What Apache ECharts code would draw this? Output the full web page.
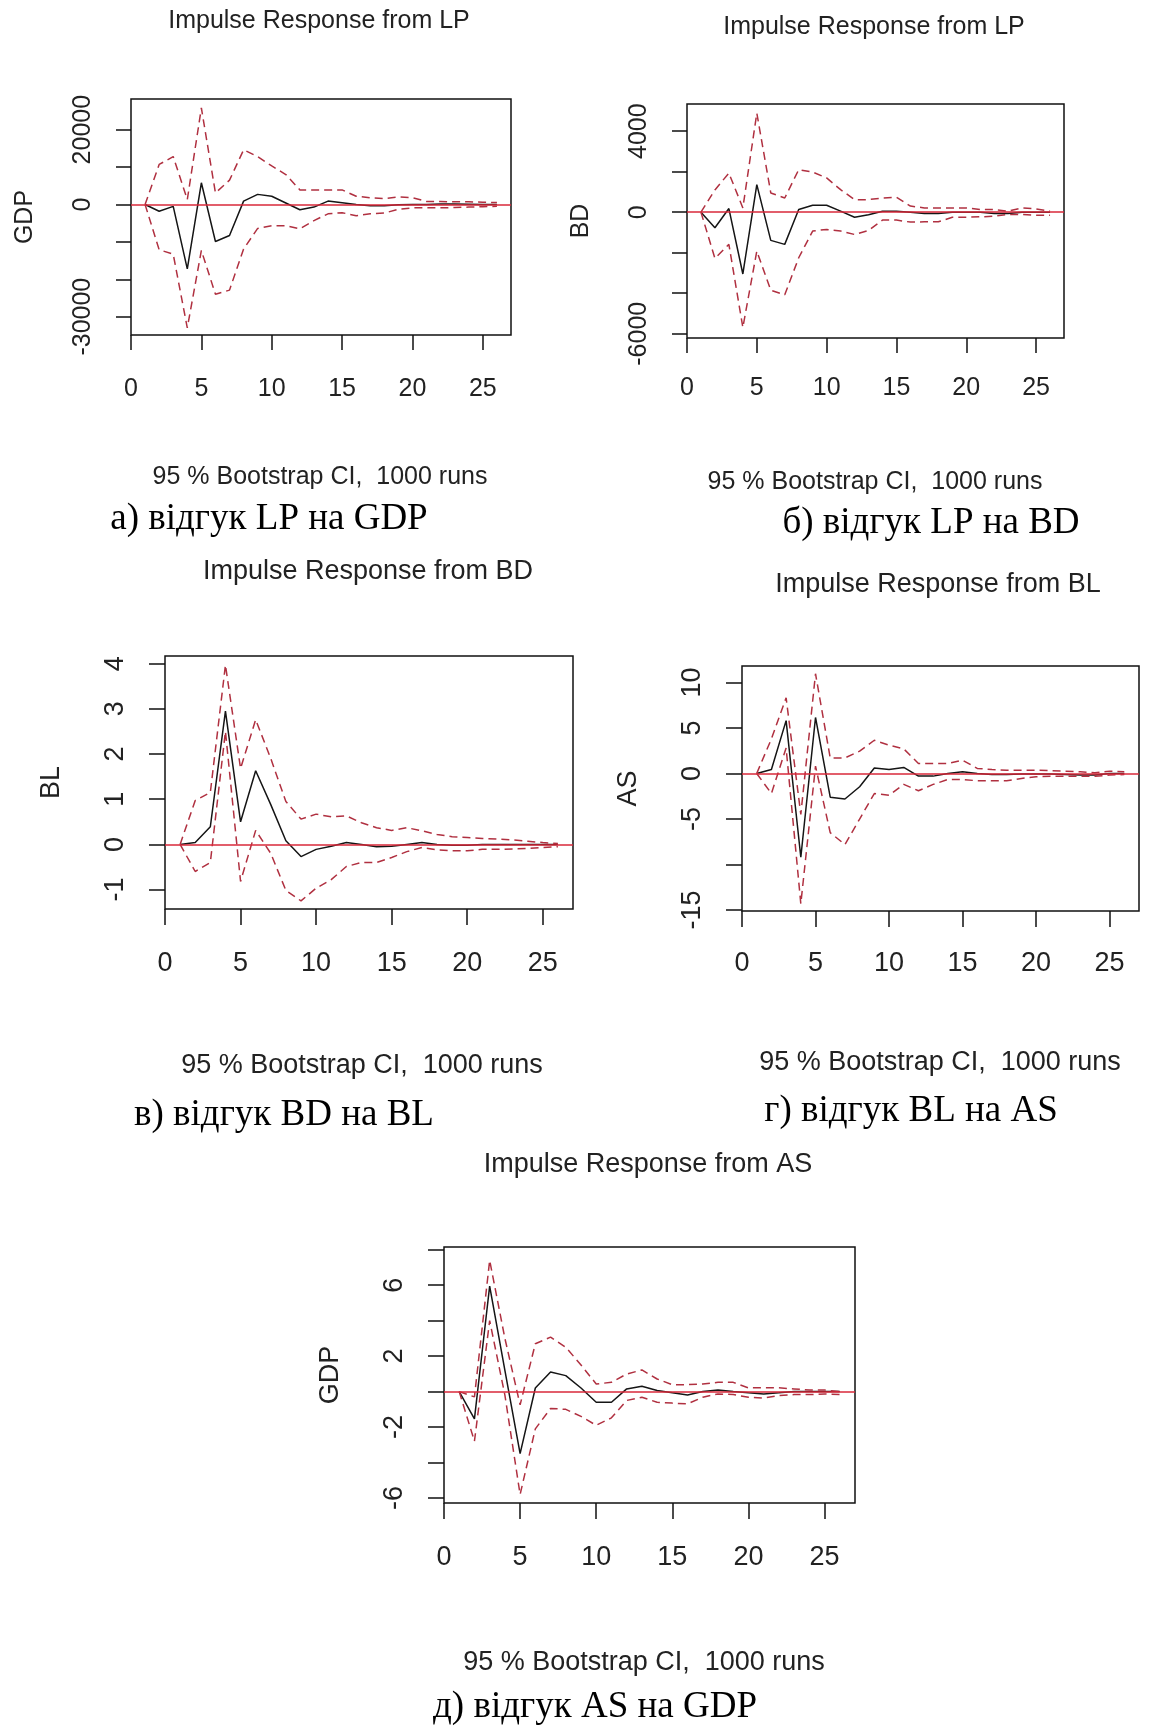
<!DOCTYPE html>
<html lang="uk">
<head>
<meta charset="UTF-8" />
<title>Impulse Response</title>
<script src="https://cdn.jsdelivr.net/npm/echarts@6/dist/echarts.min.js"></script>
<style>
  html, body { margin: 0; padding: 0; background: #fff; }
  #chart { width: 1149px; height: 1733px; }
</style>
</head>
<body>
<div id="chart"></div>
<script>
// horizon 1..26
var horizon = [1, 2, 3, 4, 5, 6, 7, 8, 9, 10, 11, 12, 13, 14, 15, 16, 17, 18, 19, 20, 21, 22, 23, 24, 25, 26];

// а) LP -> GDP
var lpGdp      = [0, -1800, -500, -17200, 5800, -9900, -8300, 900, 2700, 2200, 400, -1400, -700, 900, 450, 0, -350, -350, -100, 0, 0, 100, 100, 50, 0, 0];
var lpGdpUpper = [0, 10700, 12800, 1300, 25800, 3100, 6500, 14600, 12800, 10300, 8000, 3900, 3900, 3900, 3900, 2200, 1800, 1600, 2000, 1800, 800, 800, 700, 700, 600, 500];
var lpGdpLower = [0, -12100, -13300, -33000, -12300, -24000, -22900, -11900, -6400, -5700, -5700, -6500, -4300, -2500, -2200, -3000, -2500, -2300, -1300, -900, -900, -900, -800, -700, -600, -500];

// б) LP -> BD
var lpBd      = [0, -770, 180, -3050, 1360, -1390, -1590, 130, 340, 340, 50, -250, -130, 50, 50, 0, -60, -60, 0, 0, 0, -60, -60, 0, 0, 0];
var lpBdUpper = [0, 1100, 1930, 210, 4890, 950, 700, 2100, 1980, 1690, 1110, 620, 620, 700, 740, 300, 210, 210, 210, 210, 130, 130, 50, 210, 160, 50];
var lpBdLower = [0, -2280, -1590, -5690, -1920, -3850, -4080, -2250, -930, -850, -930, -1100, -900, -390, -390, -490, -475, -475, -250, -250, -230, -200, -110, -110, -150, -150];

// в) BD -> BL
var bdBl      = [0, 0.04, 0.39, 2.95, 0.5, 1.63, 0.88, 0.08, -0.27, -0.11, -0.04, 0.04, 0, -0.05, -0.04, 0, 0.04, 0, -0.02, -0.02, 0, 0, 0, 0, 0, 0];
var bdBlUpper = [0, 0.97, 1.15, 3.97, 1.68, 2.76, 1.9, 0.95, 0.56, 0.67, 0.61, 0.63, 0.48, 0.37, 0.31, 0.37, 0.3, 0.22, 0.17, 0.15, 0.13, 0.12, 0.1, 0.07, 0.04, 0.02];
var bdBlLower = [0, -0.6, -0.4, 2.5, -0.82, 0.31, -0.2, -1.02, -1.25, -0.97, -0.78, -0.49, -0.4, -0.4, -0.29, -0.16, -0.07, -0.12, -0.14, -0.14, -0.11, -0.11, -0.1, -0.09, -0.07, -0.05];

// г) BL -> AS
var blAs      = [0, 0.44, 5.8, -9.2, 6.15, -2.6, -2.8, -1.46, 0.6, 0.44, 0.66, -0.29, -0.29, 0, 0.18, 0, -0.11, -0.11, -0.05, -0.05, -0.05, -0.1, -0.18, -0.18, 0, 0];
var blAsUpper = [0, 3.8, 8.3, -4.5, 10.95, 1.7, 1.7, 2.45, 3.65, 3.1, 2.7, 1.1, 1.1, 1.1, 1.46, 0.55, 0.44, 0.36, 0.36, 0.36, 0.3, 0.25, 0.18, 0.07, 0.25, 0.18];
var blAsLower = [0, -2.2, 2.8, -14.3, 0.8, -6.5, -7.8, -5.0, -2.2, -2.4, -1.2, -1.9, -1.2, -0.66, -0.66, -0.8, -0.8, -0.8, -0.55, -0.36, -0.3, -0.3, -0.3, -0.3, -0.18, -0.11];

// д) AS -> GDP
var asGdp      = [0, -1.54, 5.95, 1.2, -3.5, 0.2, 1.1, 0.9, 0.2, -0.6, -0.6, 0.15, 0.3, 0.06, -0.07, -0.19, 0, 0.09, 0, -0.07, -0.13, -0.07, 0, 0, 0, 0];
var asGdpUpper = [0, -0.3, 7.4, 3.0, -0.75, 2.7, 3.07, 2.5, 1.5, 0.43, 0.52, 0.99, 1.22, 0.71, 0.39, 0.39, 0.43, 0.52, 0.52, 0.21, 0.21, 0.21, 0.15, 0.09, 0.09, 0];
var asGdpLower = [0, -2.8, 4.0, -0.2, -5.8, -2.1, -0.95, -1.0, -1.4, -1.9, -1.48, -0.5, -0.32, -0.6, -0.65, -0.69, -0.32, -0.13, -0.17, -0.32, -0.37, -0.22, -0.17, -0.17, -0.13, -0.17];

// tick values and the labels R managed to print
var xTicks = [0, 5, 10, 15, 20, 25];
var gdpTicksA = [-30000, -20000, -10000, 0, 10000, 20000];
var gdpLabelsA = [-30000, 0, 20000];
var bdTicks = [-6000, -4000, -2000, 0, 2000, 4000];
var bdLabels = [-6000, 0, 4000];
var blTicks = [-1, 0, 1, 2, 3, 4];
var asTicks = [-15, -10, -5, 0, 5, 10];
var asLabels = [-15, -5, 0, 5, 10];
var gdpTicksE = [-6, -4, -2, 0, 2, 4, 6, 8];
var gdpLabelsE = [-6, -2, 2, 6];

var ciText = "95 % Bootstrap CI,  1000 runs";

var panels = [
  { box: [131, 99, 380, 236], yRange: [-34900, 28200], ticks: gdpTicksA, labels: gdpLabelsA, name: "GDP",
    fs: 25, xm: 42, irf: lpGdp, up: lpGdpUpper, lo: lpGdpLower,
    title: [319, 21, "Impulse Response from LP"], ci: [320, 477], cap: [269, 519, "а) відгук LP на GDP"] },
  { box: [687, 104, 377, 234], yRange: [-6210, 5340], ticks: bdTicks, labels: bdLabels, name: "BD",
    fs: 25, xm: 38, irf: lpBd, up: lpBdUpper, lo: lpBdLower,
    title: [874, 27, "Impulse Response from LP"], ci: [875, 482], cap: [931, 523, "б) відгук LP на BD"] },
  { box: [165, 656, 408, 253], yRange: [-1.43, 4.17], ticks: blTicks, labels: blTicks, name: "BL",
    fs: 27, xm: 41, irf: bdBl, up: bdBlUpper, lo: bdBlLower,
    title: [368, 572, "Impulse Response from BD"], ci: [362, 1066], cap: [284, 1115, "в) відгук BD на BL"] },
  { box: [742, 666, 397, 245], yRange: [-15.1, 11.8], ticks: asTicks, labels: asLabels, name: "AS",
    fs: 27, xm: 39, irf: blAs, up: blAsUpper, lo: blAsLower,
    title: [938, 585, "Impulse Response from BL"], ci: [940, 1063], cap: [911, 1111, "г) відгук BL на AS"] },
  { box: [444, 1247, 411, 256], yRange: [-6.28, 8.15], ticks: gdpTicksE, labels: gdpLabelsE, name: "GDP",
    fs: 27, xm: 41, irf: asGdp, up: asGdpUpper, lo: asGdpLower,
    title: [648, 1165, "Impulse Response from AS"], ci: [644, 1663], cap: [595, 1707, "д) відгук AS на GDP"] }
];

function pairs(vals) {
  return horizon.map(function (h, i) { return [h, vals[i]]; });
}
function plain(v) { return String(v); }

var sans = "Liberation Sans";
var serif = "Liberation Serif";
var grids = [], xAxes = [], yAxes = [], series = [], texts = [];

panels.forEach(function (p, i) {
  var big = p.fs > 25;
  grids.push({
    left: p.box[0], top: p.box[1], width: p.box[2], height: p.box[3],
    show: true, borderColor: "#111", borderWidth: 1.5, backgroundColor: "transparent"
  });
  xAxes.push({
    gridIndex: i, type: "value", min: 0, max: 27,
    axisLine: { show: false, onZero: false },
    axisTick: { show: true, inside: false, length: big ? 16 : 15, customValues: xTicks,
      lineStyle: { color: "#111", width: 1.5 } },
    axisLabel: { customValues: xTicks, formatter: plain, margin: p.xm,
      fontFamily: sans, fontSize: p.fs, color: "#222" },
    splitLine: { show: false }
  });
  yAxes.push({
    gridIndex: i, type: "value", min: p.yRange[0], max: p.yRange[1],
    name: p.name, nameLocation: "middle", nameGap: big ? 100 : 93,
    nameTextStyle: { fontFamily: sans, fontSize: p.fs, color: "#222" },
    axisLine: { show: false, onZero: false },
    axisTick: { show: true, inside: false, length: big ? 16 : 15, customValues: p.ticks,
      lineStyle: { color: "#111", width: 1.5 } },
    axisLabel: { customValues: p.labels, formatter: plain, rotate: 90, margin: big ? 36 : 35,
      fontFamily: sans, fontSize: p.fs, color: "#222" },
    splitLine: { show: false }
  });
  var ciStyle = { color: "#b03040", width: 1.5, type: [8, 5] };
  series.push({
    type: "line", xAxisIndex: i, yAxisIndex: i, data: pairs(p.irf),
    showSymbol: false, lineStyle: { color: "#151515", width: 1.5 }, z: 3
  });
  series.push({
    type: "line", xAxisIndex: i, yAxisIndex: i, data: pairs(p.up),
    showSymbol: false, lineStyle: ciStyle, z: 4
  });
  series.push({
    type: "line", xAxisIndex: i, yAxisIndex: i, data: pairs(p.lo),
    showSymbol: false, lineStyle: ciStyle, z: 4,
    markLine: {
      silent: true, symbol: ["none", "none"], label: { show: false },
      lineStyle: { color: "#d8283a", width: 1.5, type: "solid" },
      data: [{ yAxis: 0 }]
    }
  });
  texts.push({ type: "text", x: p.title[0], y: p.title[1],
    style: { text: p.title[2], font: p.fs + "px " + sans, fill: "#222", textAlign: "center", textVerticalAlign: "middle" } });
  texts.push({ type: "text", x: p.ci[0], y: p.ci[1],
    style: { text: ciText, font: p.fs + "px " + sans, fill: "#222", textAlign: "center", textVerticalAlign: "middle" } });
  texts.push({ type: "text", x: p.cap[0], y: p.cap[1],
    style: { text: p.cap[2], font: "37px " + serif, fill: "#000", textAlign: "center", textVerticalAlign: "middle" } });
});

var chart = echarts.init(document.getElementById("chart"));
chart.setOption({
  animation: false,
  backgroundColor: "#fff",
  grid: grids,
  xAxis: xAxes,
  yAxis: yAxes,
  series: series,
  graphic: texts
});
</script>
</body>
</html>
